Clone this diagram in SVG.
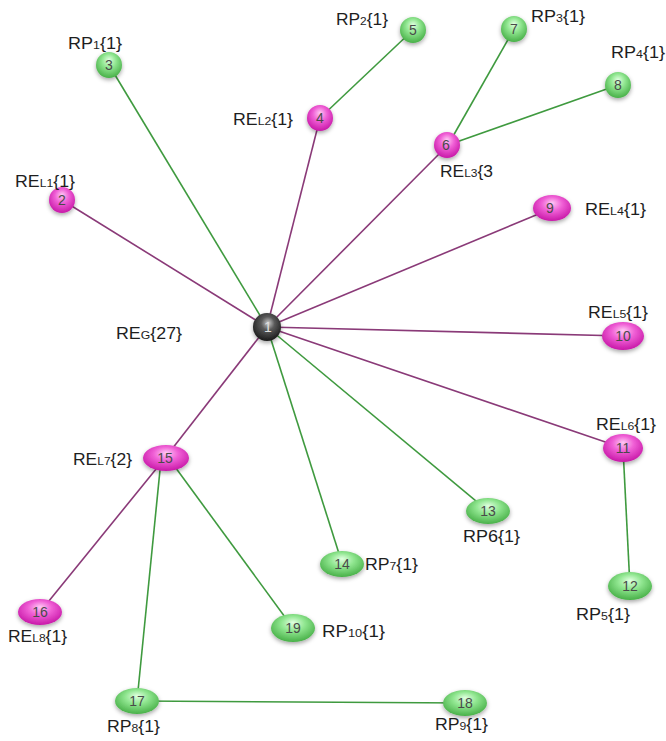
<svg xmlns="http://www.w3.org/2000/svg" width="666" height="741" viewBox="0 0 666 741">
<defs>
<radialGradient id="gp" cx="50%" cy="40%" r="60%" fx="50%" fy="30%">
<stop offset="0" stop-color="#ffc8f4"/><stop offset="0.45" stop-color="#f060d6"/><stop offset="1" stop-color="#c818a8"/>
</radialGradient>
<radialGradient id="gg" cx="50%" cy="40%" r="60%" fx="50%" fy="30%">
<stop offset="0" stop-color="#e0ffe0"/><stop offset="0.45" stop-color="#90e690"/><stop offset="1" stop-color="#48b048"/>
</radialGradient>
<radialGradient id="gd" cx="50%" cy="40%" r="60%" fx="55%" fy="35%">
<stop offset="0" stop-color="#c8c8c8"/><stop offset="0.4" stop-color="#5a5a5a"/><stop offset="1" stop-color="#1a1a1a"/>
</radialGradient>
<filter id="sh" x="-50%" y="-50%" width="200%" height="200%">
<feDropShadow dx="0" dy="2" stdDeviation="2" flood-color="#000" flood-opacity="0.35"/>
</filter>
</defs>
<style>
.em{stroke:#8a3a78;stroke-width:1.6;fill:none}
.eg{stroke:#3f9a3f;stroke-width:1.6;fill:none}
.p{fill:url(#gp);filter:url(#sh)}
.g{fill:url(#gg);filter:url(#sh)}
.d{fill:url(#gd);filter:url(#sh)}
.n{font-family:"Liberation Sans",Arial,sans-serif;font-size:14px;text-anchor:middle;fill:#4a4a4a}
.lb{font-family:"Liberation Sans",Arial,sans-serif;font-size:16px;fill:#1e1e1e}
.s{font-size:11px}
</style>
<rect width="666" height="741" fill="#fff"/>
<g id="edges">
<line class="em" x1="267" y1="327" x2="62" y2="200"/>
<line class="eg" x1="267" y1="327" x2="109" y2="65"/>
<line class="em" x1="267" y1="327" x2="320" y2="118"/>
<line class="eg" x1="320" y1="118" x2="413" y2="30"/>
<line class="em" x1="267" y1="327" x2="448" y2="145"/>
<line class="eg" x1="448" y1="145" x2="514" y2="29"/>
<line class="eg" x1="448" y1="145" x2="618" y2="85"/>
<line class="em" x1="267" y1="327" x2="553" y2="208"/>
<line class="em" x1="267" y1="327" x2="623" y2="336"/>
<line class="em" x1="267" y1="327" x2="623" y2="448"/>
<line class="eg" x1="623" y1="448" x2="630" y2="587"/>
<line class="eg" x1="267" y1="327" x2="488" y2="511"/>
<line class="eg" x1="267" y1="327" x2="342" y2="563"/>
<line class="em" x1="267" y1="327" x2="165" y2="458"/>
<line class="em" x1="165" y1="458" x2="40" y2="612"/>
<line class="eg" x1="161" y1="460" x2="137" y2="701"/>
<line class="eg" x1="170" y1="460" x2="293" y2="628"/>
<line class="eg" x1="137" y1="701" x2="465" y2="703"/>
</g>
<g id="n1"><circle class="d" cx="267" cy="327" r="14"/><text class="n" x="268" y="332" style="fill:#e0e0e0">1</text></g>
<g id="n2"><ellipse class="p" cx="62" cy="200" rx="13" ry="13"/><text class="n" x="62" y="205">2</text></g>
<g id="n3"><ellipse class="g" cx="109" cy="65" rx="13" ry="13"/><text class="n" x="109" y="70">3</text></g>
<g id="n4"><ellipse class="p" cx="320" cy="118" rx="13" ry="13"/><text class="n" x="320" y="123">4</text></g>
<g id="n5"><ellipse class="g" cx="413" cy="30" rx="13" ry="13"/><text class="n" x="413" y="35">5</text></g>
<g id="n6"><ellipse class="p" cx="447" cy="145" rx="13" ry="13"/><text class="n" x="446" y="150">6</text></g>
<g id="n7"><ellipse class="g" cx="514" cy="29" rx="13" ry="13"/><text class="n" x="514" y="34">7</text></g>
<g id="n8"><ellipse class="g" cx="618" cy="85" rx="13" ry="13"/><text class="n" x="618" y="90">8</text></g>
<g id="n9"><ellipse class="p" cx="552" cy="208" rx="19" ry="13"/><text class="n" x="550" y="213">9</text></g>
<g id="n10"><ellipse class="p" cx="623" cy="336" rx="21" ry="14"/><text class="n" x="623" y="341">10</text></g>
<g id="n11"><ellipse class="p" cx="623" cy="448" rx="20" ry="14"/><text class="n" x="623" y="453">11</text></g>
<g id="n12"><ellipse class="g" cx="630" cy="586" rx="22" ry="14"/><text class="n" x="630" y="591">12</text></g>
<g id="n13"><ellipse class="g" cx="488" cy="511" rx="22" ry="13"/><text class="n" x="488" y="516">13</text></g>
<g id="n14"><ellipse class="g" cx="342" cy="564" rx="22" ry="13"/><text class="n" x="342" y="569">14</text></g>
<g id="n15"><ellipse class="p" cx="166" cy="458" rx="23" ry="13"/><text class="n" x="165" y="463">15</text></g>
<g id="n16"><ellipse class="p" cx="40" cy="612" rx="22" ry="13"/><text class="n" x="40" y="617">16</text></g>
<g id="n17"><ellipse class="g" cx="137" cy="701" rx="22" ry="13"/><text class="n" x="137" y="706">17</text></g>
<g id="n18"><ellipse class="g" cx="465" cy="703" rx="22" ry="13"/><text class="n" x="465" y="708">18</text></g>
<g id="n19"><ellipse class="g" cx="293" cy="628" rx="22" ry="14"/><text class="n" x="293" y="633">19</text></g>
<g id="labels">
<text class="lb" x="68" y="49" textLength="54" lengthAdjust="spacingAndGlyphs">RP<tspan class="s">1</tspan>{1}</text>
<text class="lb" x="15" y="187" textLength="60" lengthAdjust="spacingAndGlyphs">RE<tspan class="s">L1</tspan>{1}</text>
<text class="lb" x="233" y="125" textLength="60" lengthAdjust="spacingAndGlyphs">RE<tspan class="s">L2</tspan>{1}</text>
<text class="lb" x="336" y="25" textLength="52" lengthAdjust="spacingAndGlyphs">RP<tspan class="s">2</tspan>{1}</text>
<text class="lb" x="531" y="22" textLength="54" lengthAdjust="spacingAndGlyphs">RP<tspan class="s">3</tspan>{1}</text>
<text class="lb" x="611" y="58" textLength="54" lengthAdjust="spacingAndGlyphs">RP<tspan class="s">4</tspan>{1}</text>
<text class="lb" x="440" y="177" textLength="53" lengthAdjust="spacingAndGlyphs">RE<tspan class="s">L3</tspan>{3</text>
<text class="lb" x="585" y="215" textLength="61" lengthAdjust="spacingAndGlyphs">RE<tspan class="s">L4</tspan>{1}</text>
<text class="lb" x="116" y="339" textLength="66" lengthAdjust="spacingAndGlyphs">RE<tspan class="s">G</tspan>{27}</text>
<text class="lb" x="588" y="318" textLength="60" lengthAdjust="spacingAndGlyphs">RE<tspan class="s">L5</tspan>{1}</text>
<text class="lb" x="596" y="430" textLength="60" lengthAdjust="spacingAndGlyphs">RE<tspan class="s">L6</tspan>{1}</text>
<text class="lb" x="73" y="465" textLength="59" lengthAdjust="spacingAndGlyphs">RE<tspan class="s">L7</tspan>{2}</text>
<text class="lb" x="463" y="542" textLength="57" lengthAdjust="spacingAndGlyphs">RP6{1}</text>
<text class="lb" x="365" y="570" textLength="53" lengthAdjust="spacingAndGlyphs">RP<tspan class="s">7</tspan>{1}</text>
<text class="lb" x="576" y="620" textLength="54" lengthAdjust="spacingAndGlyphs">RP<tspan class="s">5</tspan>{1}</text>
<text class="lb" x="322" y="637" textLength="63" lengthAdjust="spacingAndGlyphs">RP<tspan class="s">10</tspan>{1}</text>
<text class="lb" x="8" y="642" textLength="59" lengthAdjust="spacingAndGlyphs">RE<tspan class="s">L8</tspan>{1}</text>
<text class="lb" x="107" y="732" textLength="53" lengthAdjust="spacingAndGlyphs">RP<tspan class="s">8</tspan>{1}</text>
<text class="lb" x="435" y="730" textLength="53" lengthAdjust="spacingAndGlyphs">RP<tspan class="s">9</tspan>{1}</text>
</g>
</svg>
